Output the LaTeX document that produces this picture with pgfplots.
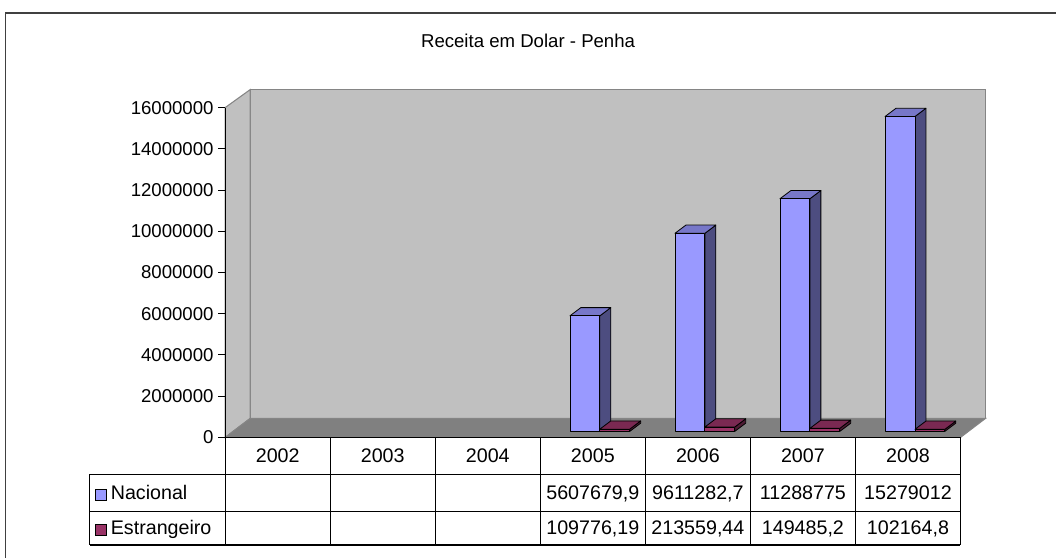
\documentclass[border=0pt]{standalone}
\usepackage{fontspec}
\setmainfont{Liberation Sans}
\usepackage{pgfplots}
\usepackage{pgfplotstable}
\pgfplotsset{compat=1.18}
\definecolor{nacF}{HTML}{9999FF}
\definecolor{nacT}{HTML}{7777C9}
\definecolor{nacS}{HTML}{4D4D80}
\definecolor{estF}{HTML}{993366}
\definecolor{estT}{HTML}{7A2952}
\definecolor{estS}{HTML}{4D1A33}
\definecolor{wall}{HTML}{C0C0C0}
\definecolor{floorc}{HTML}{808080}
\definecolor{edge}{HTML}{858585}
\definecolor{frame}{HTML}{404040}

\pgfdeclareplotmark{none3d}{}

\pgfplotstableread{
x v
3 5607679.9
4 9611282.7
5 11288775
6 15279012
}\nacional
\pgfplotstableread{
x v
3 109776.19
4 213559.44
5 149485.2
6 102164.8
}\estrangeiro

\pgfplotsset{
  bar3d/.style n args={6}{%
    scatter, only marks, mark=none3d,
    point meta=explicit symbolic,
    scatter/@pre marker code/.code={%
      \begingroup
        \pgfkeys{/pgf/fpu=true,/pgf/fpu/output format=fixed}%
        \pgfmathparse{\pgfplotspointmeta*1.5515625e-5}%
        \xdef\barh{\pgfmathresult}%
      \endgroup
      \path[draw=black,line width=0.6pt,line join=round,fill=#6]
        (#2,{4.5pt-\barh pt}) -- (#3,{10.7pt-\barh pt}) -- (#3,10.7pt) -- (#2,4.5pt) -- cycle;
      \path[draw=black,line width=0.6pt,line join=round,fill=#5]
        (#1,4.5pt) -- (#2,4.5pt) -- (#3,10.7pt) -- ({#1+8.25pt},10.7pt) -- cycle;
      \path[draw=black,line width=0.6pt,line join=round,fill=#4]
        (#1,{4.5pt-\barh pt}) rectangle (#2,4.5pt);
    },
    scatter/@post marker code/.code={},
  }
}

\begin{document}
\begin{tikzpicture}[every node/.style={font=\fontsize{14}{16}\selectfont}]
\begin{scope}[x=0.75pt,y=-0.75pt]
  \useasboundingbox (0,0) rectangle (1057,557);
  \fill[white] (0,0) rectangle (1057,557);
  % walls and floor
  \fill[wall] (251,90) rectangle (989,420);
  \draw[edge, line width=0.8pt] (251,420) -- (251,90) -- (989,90) -- (989,420);
  \filldraw[fill=wall, draw=edge, line width=0.8pt] (226,108) -- (251,90) -- (251,420) -- (226,439) -- cycle;
  \filldraw[fill=floorc, draw=edge, line width=0.8pt] (226,439) -- (251,420) -- (989,420) -- (964,439) -- cycle;
\end{scope}

\begin{axis}[
  at={(169.5pt,-329.25pt)}, anchor=south west,
  scale only axis, width=553.5pt, height=248.25pt,
  xmin=-0.5, xmax=6.5, ymin=0, ymax=16000000,
  axis x line=none, axis y line*=left,
  axis line style={-, black, line width=0.8pt},
  ytick={0,2000000,4000000,6000000,8000000,10000000,12000000,14000000,16000000},
  scaled y ticks=false,
  yticklabel style={/pgf/number format/fixed, /pgf/number format/1000 sep={}, font=\fontsize{14}{16}\selectfont},
  /pgf/number format/assume math mode=true,
  tick align=outside, major tick length=5.25pt,
  tick style={black, line width=0.8pt},
  clip=false,
]
\addplot[bar3d={-17.25pt}{5.25pt}{13.5pt}{nacF}{nacT}{nacS}] table[x=x,y=v,meta=v]{\nacional};
\addplot[bar3d={5.25pt}{27.75pt}{36pt}{estF}{estT}{estS}] table[x=x,y=v,meta=v]{\estrangeiro};
\end{axis}

\begin{scope}[x=0.75pt,y=-0.75pt,every node/.style={font=\fontsize{14.8}{17}\selectfont}]
  % outer frame (only left and top visible)
  \draw[frame, line width=1.3pt] (5.5,560) -- (5.5,13) -- (1060,13);
  % title
  \node[anchor=base,font=\fontsize{14}{16}\selectfont] at (530,48) {Receita em Dolar - Penha};
  % data table
  \draw[black, line width=0.8pt] (226,439) -- (964,439);
  \foreach \yy in {476,513,547} \draw[black, line width=0.8pt] (90,\yy) -- (964,\yy);
  \draw[black, line width=0.8pt] (90,476) -- (90,547);
  \foreach \k in {0,...,7} \draw[black, line width=0.8pt] ({226+\k*105.4286},439) -- ({226+\k*105.4286},547);
  \foreach \k/\yr in {0/2002,1/2003,2/2004,3/2005,4/2006,5/2007,6/2008}
    \node[anchor=base] at ({226+(\k+0.5)*105.4286},464) {\yr};
  \foreach \k/\vv in {3/{5607679,9},4/{9611282,7},5/{11288775},6/{15279012}}
    \node[anchor=base] at ({226+(\k+0.5)*105.4286},501.5) {\vv};
  \foreach \k/\vv in {3/{109776,19},4/{213559,44},5/{149485,2},6/{102164,8}}
    \node[anchor=base] at ({226+(\k+0.5)*105.4286},536.5) {\vv};
  % legend keys
  \filldraw[fill=nacF, draw=black, line width=0.6pt] (96,491) rectangle (107,502);
  \node[anchor=base west, inner sep=0pt] at (111,501.5) {Nacional};
  \filldraw[fill=estF, draw=black, line width=0.6pt] (96,526) rectangle (107,537);
  \node[anchor=base west, inner sep=0pt] at (111,536.5) {Estrangeiro};
\end{scope}
\end{tikzpicture}
\end{document}
